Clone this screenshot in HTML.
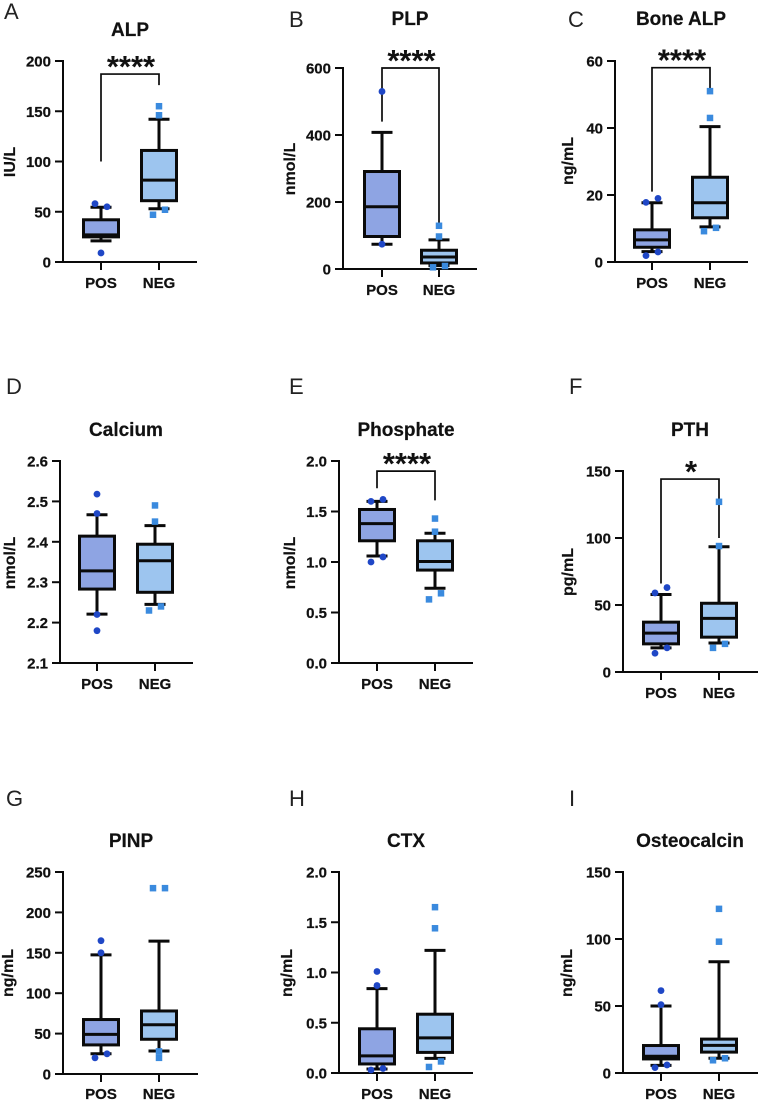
<!DOCTYPE html>
<html lang="en">
<head>
<meta charset="utf-8">
<title>Bone marker box plots</title>
<style>
  html, body { margin: 0; padding: 0; background: #fff; }
  #figure { display: block; width: 759px; height: 1102px; font-family: "Liberation Sans", sans-serif; filter: blur(0.3px); }
  .tick-label, .cat-label { font-weight: 700; font-size: 15px; fill: #111; stroke: #111; stroke-width: 0.25px; }
  .y-title { font-weight: 700; font-size: 16px; fill: #111; stroke: #111; stroke-width: 0.2px; }
  .panel-title { font-weight: 700; font-size: 19px; fill: #111; stroke: #111; stroke-width: 0.2px; }
  .panel-letter { font-weight: 400; font-size: 22px; fill: #222; }
  .stars { font-weight: 700; font-size: 31px; fill: #111; }
</style>
</head>
<body>
<svg id="figure" xmlns="http://www.w3.org/2000/svg" width="759" height="1102" viewBox="0 0 759 1102"></svg>
<script>
// ---------- Data ----------
const panelLetters = ["A","B","C","D","E","F","G","H","I"];
const panelTitles = ["ALP","PLP","Bone ALP","Calcium","Phosphate","PTH","PINP","CTX","Osteocalcin"];
const yUnits = ["IU/L","nmol/L","ng/mL","nmol/L","nmol/L","pg/mL","ng/mL","ng/mL","ng/mL"];
const categories = ["POS","NEG"];
const yTickLabels = [
  ["0","50","100","150","200"],
  ["0","200","400","600"],
  ["0","20","40","60"],
  ["2.1","2.2","2.3","2.4","2.5","2.6"],
  ["0.0","0.5","1.0","1.5","2.0"],
  ["0","50","100","150"],
  ["0","50","100","150","200","250"],
  ["0.0","0.5","1.0","1.5","2.0"],
  ["0","50","100","150"]
];
// Box statistics: [whisker low, q1, median, q3, whisker high]
const posBoxes = [
  [21,25,27,42,54.5],
  [74,97,186,291,408],
  [3.1,4.4,6.6,9.6,17.7],
  [2.221,2.283,2.328,2.414,2.467],
  [1.06,1.21,1.38,1.52,1.6],
  [18,21,29,37.2,57.8],
  [25,36,49,67.4,147.5],
  [0.04,0.09,0.17,0.44,0.84],
  [5.7,10.5,12.5,20.5,50]
];
const negBoxes = [
  [53,61,81.5,111,142],
  [10,18,36,56,87],
  [10.5,13.2,17.7,25.3,40.4],
  [2.245,2.275,2.353,2.394,2.44],
  [0.74,0.92,1.005,1.21,1.285],
  [21.6,26,40,51.3,93.5],
  [28.5,43,61,78,164.5],
  [0.145,0.205,0.35,0.585,1.22],
  [11,15.6,20.6,25.3,83]
];
const posPoints = [
  [58,55,9],
  [530,74],
  [19,17.8,3,1.9],
  [2.518,2.47,2.22,2.18],
  [1.6,1.62,1.05,1.0],
  [63,59,18,14],
  [165,150,25,20],
  [1.01,0.87,0.045,0.03],
  [61.5,51,6,4]
];
const posJitter = [
  [-1,1,0],
  [0,0],
  [1,-1,1,-1],
  [0,0,0,0],
  [-1,1,1,-1],
  [1,-1,1,-1],
  [0,0,1,-1],
  [0,0,1,-1],
  [0,0,1,-1]
];
const negPoints = [
  [155,146,47,52],
  [129,97,5,9],
  [51,43,9.2,10.2],
  [2.49,2.45,2.23,2.24],
  [1.43,1.3,0.69,0.63],
  [127,94,21,18],
  [230,230,28,20],
  [1.65,1.44,0.115,0.06],
  [122.5,98,11,9.5]
];
const negJitter = [
  [0,0,-1,1],
  [0,0,-1,1],
  [0,0,-1,1],
  [0,0,-1,1],
  [0,0,1,-1],
  [0,0,1,-1],
  [-1,1,0,0],
  [0,0,1,-1],
  [0,0,1,-1]
];
// Significance brackets: [left foot, top, right foot] in axis units
const brackets = [
  [100,187,176],
  [440,600,127],
  [21,58,51],
  null,
  [1.73,1.9,1.61],
  [66,144,100],
  null,
  null,
  null
];
const significance = ["****","****","****","","****","*","","",""];

// ---------- Panel layout (not data) ----------
const frames = [
  {ax:63, top:61,  base:262,  end:197, xa:101, xb:159, lx:4,   ly:19,  tx:130, ty:36,  ux:15,  uy:162, cy:288},
  {ax:343,top:68,  base:269,  end:477, xa:382, xb:439, lx:289, ly:27,  tx:410, ty:25,  ux:295, uy:169, cy:295},
  {ax:615,top:61,  base:262,  end:748, xa:652, xb:710, lx:568, ly:27,  tx:681, ty:25,  ux:573, uy:161, cy:288},
  {ax:60, top:461, base:663,  end:193, xa:97,  xb:155, lx:6,   ly:394, tx:126, ty:436, ux:15,  uy:563, cy:689},
  {ax:339,top:461, base:663,  end:473, xa:377, xb:435, lx:289, ly:394, tx:406, ty:436, ux:295, uy:563, cy:689},
  {ax:623,top:471, base:672,  end:758, xa:661, xb:719, lx:569, ly:394, tx:690, ty:436, ux:573, uy:572, cy:698},
  {ax:63, top:872, base:1074, end:198, xa:101, xb:159, lx:6,   ly:806, tx:131, ty:847, ux:13,  uy:973, cy:1099},
  {ax:339,top:872, base:1073, end:473, xa:377, xb:435, lx:289, ly:806, tx:406, ty:847, ux:292, uy:973, cy:1099},
  {ax:623,top:872, base:1073, end:758, xa:661, xb:719, lx:569, ly:806, tx:690, ty:847, ux:572, uy:973, cy:1099}
];
const BOX_W = 35, CAP_W = 21, TICK = 8, JITTER = 6, DOT_R = 3.4, SQUARE = 6.5;
const POS_FILL = "#8ea4e3", NEG_FILL = "#9dc5ef", POS_DOT = "#1f47c6", NEG_DOT = "#3a8ade", INK = "#0a0a0a";

// ---------- Drawing ----------
const SVG_NS = "http://www.w3.org/2000/svg";
const root = document.getElementById("figure");

function mk(parent, tag, props, text) {
  const node = document.createElementNS(SVG_NS, tag);
  for (const k in props) node.setAttribute(k, props[k]);
  if (text !== undefined) node.textContent = text;
  parent.appendChild(node);
  return node;
}
function seg(parent, x1, y1, x2, y2, w) {
  return mk(parent, "line", {x1:x1, y1:y1, x2:x2, y2:y2, stroke:INK, "stroke-width":w});
}

function drawSeries(panel, keyPrefix, cx, y, stats, points, jitter, fill, dotColor, square) {
  const [lo, q1, med, q3, hi] = stats;
  let el;
  el = seg(panel, cx, y(hi), cx, y(q3), 3);
  
  
  el = seg(panel, cx, y(q1), cx, y(lo), 3);
  
  
  el = seg(panel, cx - CAP_W / 2, y(hi), cx + CAP_W / 2, y(hi), 3);
  
  
  el = seg(panel, cx - CAP_W / 2, y(lo), cx + CAP_W / 2, y(lo), 3);
  
  
  el = mk(panel, "rect", {x:cx - BOX_W / 2, y:y(q3), width:BOX_W, height:y(q1) - y(q3), fill:fill, stroke:INK, "stroke-width":3});
  
  
  el = seg(panel, cx - BOX_W / 2, y(med), cx + BOX_W / 2, y(med), 3);
  
  
  points.forEach((v, i) => {
    const px = cx + jitter[i] * JITTER;
    const pt = square
      ? mk(panel, "rect", {x:px - SQUARE / 2, y:y(v) - SQUARE / 2, width:SQUARE, height:SQUARE, fill:dotColor})
      : mk(panel, "circle", {cx:px, cy:y(v), r:DOT_R, fill:dotColor});
    
    
  });
}

frames.forEach((f, p) => {
  const ticks = yTickLabels[p];
  const minV = Number(ticks[0]);
  const maxV = Number(ticks[ticks.length - 1]);
  const y = v => f.base - (v - minV) / (maxV - minV) * (f.base - f.top);
  const key = panelLetters[p].toLowerCase();

  const panel = mk(root, "g", {});
  
  

  let el = mk(panel, "text", {class:"panel-letter", x:f.lx, y:f.ly}, panelLetters[p]);
  
  

  el = mk(panel, "text", {class:"panel-title", x:f.tx, y:f.ty, "text-anchor":"middle"}, panelTitles[p]);
  
  

  el = mk(panel, "text", {class:"y-title", "text-anchor":"middle", transform:"translate(" + f.ux + " " + f.uy + ") rotate(-90)"}, yUnits[p]);
  
  

  el = seg(panel, f.ax, f.top - 1, f.ax, f.base + 1, 2);
  
  
  el = seg(panel, f.ax - TICK, f.base, f.end, f.base, 2);
  
  

  ticks.forEach(label => {
    const ty = y(Number(label));
    let t = seg(panel, f.ax - TICK, ty, f.ax, ty, 2);
    
    
    t = mk(panel, "text", {class:"tick-label", x:f.ax - 12, y:ty + 5.5, "text-anchor":"end"}, label);
    
    
  });

  [f.xa, f.xb].forEach((cx, c) => {
    let t = seg(panel, cx, f.base, cx, f.base + TICK, 2);
    
    
    t = mk(panel, "text", {class:"cat-label", x:cx, y:f.cy, "text-anchor":"middle"}, categories[c]);
    
    
  });

  const br = brackets[p];
  if (br) {
    const pts = [[f.xa, y(br[0])], [f.xa, y(br[1])], [f.xb, y(br[1])], [f.xb, y(br[2])]];
    el = mk(panel, "polyline", {points:pts.map(q => q.join(",")).join(" "), fill:"none", stroke:INK, "stroke-width":1.7});
    
    
    el = mk(panel, "text", {class:"stars", x:(f.xa + f.xb) / 2 + 1, y:y(br[1]) + 3, "text-anchor":"middle"}, significance[p]);
    
    
  }

  drawSeries(panel, "pos", f.xa, y, posBoxes[p], posPoints[p], posJitter[p], POS_FILL, POS_DOT, false);
  drawSeries(panel, "neg", f.xb, y, negBoxes[p], negPoints[p], negJitter[p], NEG_FILL, NEG_DOT, true);
});
</script>
</body>
</html>
